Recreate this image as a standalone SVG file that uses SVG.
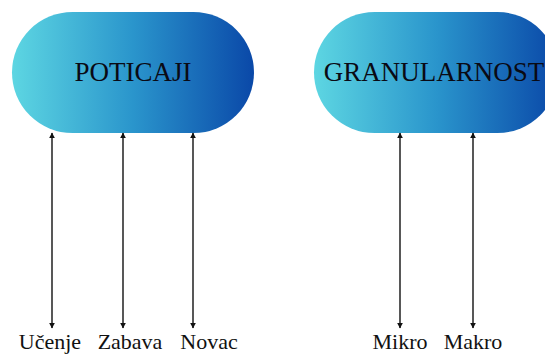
<svg xmlns="http://www.w3.org/2000/svg" width="545" height="354" viewBox="0 0 545 354">
<style>
.pill{fill:url(#g);}
.title{font-family:"Liberation Serif","DejaVu Serif",serif;font-size:27px;fill:#0a0a14;text-anchor:middle;}
.lbl{font-family:"Liberation Serif","DejaVu Serif",serif;font-size:22px;fill:#111;text-anchor:middle;}
.con{stroke:#111;stroke-width:1.4;fill:none;marker-start:url(#ah);marker-end:url(#ah);}
</style>
<defs>
<linearGradient id="g" x1="0" y1="0" x2="1" y2="0">
<stop offset="0" stop-color="#5dd6e2"/>
<stop offset="0.5" stop-color="#2a95cc"/>
<stop offset="1" stop-color="#0a48a8"/>
</linearGradient>
<marker id="ah" viewBox="0 0 10 10" refX="9" refY="5" markerWidth="6" markerHeight="6" markerUnits="userSpaceOnUse" orient="auto-start-reverse">
<path d="M0,0 L10,5 L0,10 Z" fill="#111"/>
</marker>
</defs>
<g id="node-poticaji">
<rect class="pill" x="12" y="12" width="242" height="121" rx="60.5"/>
<text class="title" x="133" y="81">POTICAJI</text>
</g>
<g id="node-granularnost">
<rect class="pill" x="314" y="12" width="244" height="121" rx="60.5"/>
<text class="title" x="434" y="81">GRANULARNOST</text>
</g>
<g id="connectors">
<line class="con" x1="52" y1="133" x2="52" y2="328"/>
<line class="con" x1="123" y1="133" x2="123" y2="328"/>
<line class="con" x1="193" y1="133" x2="193" y2="328"/>
<line class="con" x1="400" y1="133" x2="400" y2="328"/>
<line class="con" x1="473" y1="133" x2="473" y2="328"/>
</g>
<g id="node-ucenje"><text class="lbl" x="50" y="349">Učenje</text></g>
<g id="node-zabava"><text class="lbl" x="130" y="349">Zabava</text></g>
<g id="node-novac"><text class="lbl" x="209" y="349">Novac</text></g>
<g id="node-mikro"><text class="lbl" x="400" y="349">Mikro</text></g>
<g id="node-makro"><text class="lbl" x="473" y="349">Makro</text></g>
</svg>
